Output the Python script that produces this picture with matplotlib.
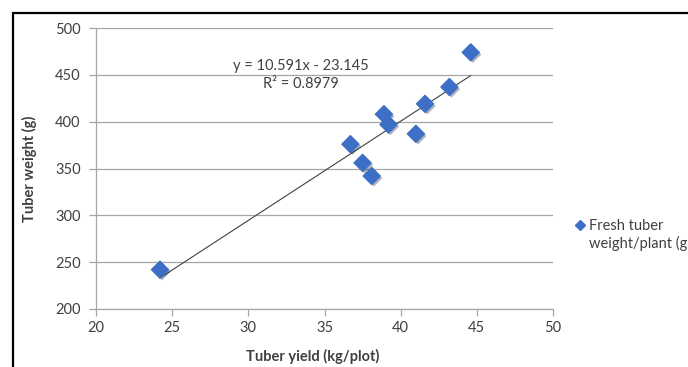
import matplotlib
matplotlib.use("Agg")
import matplotlib.pyplot as plt
import matplotlib.patheffects as pe
from matplotlib.patches import Rectangle
import numpy as np

# data
tuber_yield = [24.2, 36.7, 37.5, 38.1, 38.9, 39.2, 41.0, 41.6, 43.2, 44.6]
tuber_weight = [242, 376, 356, 342, 408, 397, 387, 419, 437, 474]
slope = 10.591
intercept = -23.145
r_squared = 0.8979
series_name = "Fresh tuber\nweight/plant (g)"

plt.rcParams["font.family"] = ["Lato", "DejaVu Sans"]
BLUE = "#3D6FC6"
GRID = "#A6A6A6"
TEXT = "#404040"

fig = plt.figure(figsize=(6.88, 3.67), dpi=100)
W, H = 688, 367
ax = fig.add_axes([96 / W, 1 - 309 / H, (553 - 96) / W, (309 - 28) / H])

ax.scatter(tuber_yield, tuber_weight, marker="D", s=75, color=BLUE, zorder=3,
           path_effects=[pe.SimplePatchShadow(offset=(1.5, -1.5), alpha=0.35),
                         pe.Normal()])

xs = np.array([min(tuber_yield), max(tuber_yield)])
ax.plot(xs, slope * xs + intercept, color="#404040", lw=0.8, zorder=2)

ax.set_xlim(20, 50)
ax.set_ylim(200, 500)
ax.set_xticks(range(20, 51, 5))
ax.set_yticks(range(200, 501, 50))
ax.yaxis.grid(True, color=GRID, lw=0.9)
ax.set_axisbelow(True)
for s in ["top", "right"]:
    ax.spines[s].set_visible(False)
for s in ["left", "bottom"]:
    ax.spines[s].set_color(GRID)
    ax.spines[s].set_linewidth(0.9)
ax.tick_params(axis="both", colors=GRID, labelcolor=TEXT, labelsize=10.5,
               length=5, width=0.9)
ax.tick_params(axis="x", pad=4)
ax.tick_params(axis="y", pad=6)

ax.set_xlabel("Tuber yield (kg/plot)", fontsize=10.5, fontweight="bold",
              color=TEXT)
ax.xaxis.set_label_coords((313 - 96) / (553 - 96), -(349 - 309) / (309 - 28))
ax.set_ylabel("Tuber weight (g)", fontsize=10.5, fontweight="bold", color=TEXT)
ax.yaxis.set_label_coords(-(96 - 37) / (553 - 96), 0.5)

eq = f"y = {slope}x - {abs(intercept)}\nR² = {r_squared}"
fig.text(301 / W, 1 - 75 / H, eq, ha="center", va="center", fontsize=10.5,
         color=TEXT, linespacing=1.35)

# legend drawn by hand so it can run off the right edge like the original
fig.lines.append(plt.Line2D([580 / W], [1 - 225 / H], marker="D", ms=5,
                            color=BLUE, transform=fig.transFigure))
fig.text(589 / W, 1 - 235 / H, series_name, ha="left", va="center",
         fontsize=10.5, color=TEXT, linespacing=1.3)

fig.patches.append(Rectangle((13 / W, -0.1), 1.2, (1 - 13 / H) + 0.1,
                             transform=fig.transFigure, fill=False,
                             edgecolor="black", lw=1.6))

fig.savefig("out.png", dpi=100)
